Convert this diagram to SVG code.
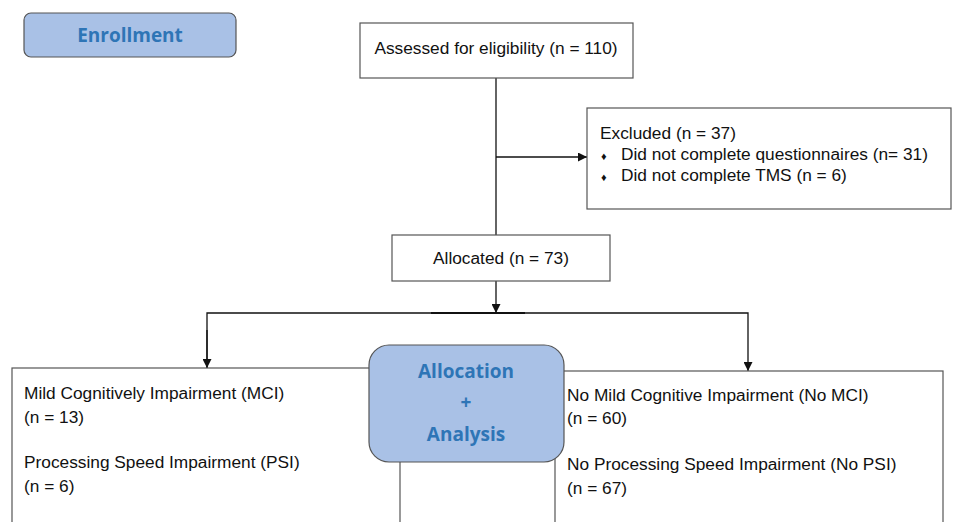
<svg xmlns="http://www.w3.org/2000/svg" width="953" height="522" viewBox="0 0 953 522">
  <style>
    .box { fill: #ffffff; stroke: #555555; stroke-width: 1.2; }
    .stage { fill: #a9c1e6; stroke: #555555; stroke-width: 1.2; }
    .txt { font-family: "Liberation Sans", Arial, sans-serif; font-size: 17.3px; fill: #111111; }
    .bullet { font-size: 11px; }
    .head { font-family: "Open Sans", "Noto Sans", sans-serif; font-weight: 700; font-size: 19px; fill: #2e75b6; text-anchor: middle; }
    .link { fill: none; stroke: #111111; stroke-width: 1.3; }
  </style>
  <defs>
    <marker id="arrow" viewBox="0 0 10 10" refX="10" refY="5" markerWidth="9" markerHeight="9" markerUnits="userSpaceOnUse" orient="auto">
      <path d="M0,0 L10,5 L0,10 z" fill="#111111"/>
    </marker>
  </defs>

  <rect width="953" height="522" fill="#ffffff"/>

  <!-- connectors -->
  <g id="connectors">
    <line class="link" x1="496" y1="78" x2="496" y2="235"/>
    <line class="link" x1="496" y1="157" x2="587" y2="157" marker-end="url(#arrow)"/>
    <line class="link" x1="496" y1="281" x2="496" y2="313" marker-end="url(#arrow)"/>
    <polyline class="link" points="207,368 207,313 748,313 748,371" marker-end="url(#arrow)"/>
    <line class="link" x1="207" y1="330" x2="207" y2="368" marker-end="url(#arrow)"/>
    <line x1="431" y1="313" x2="525" y2="313" stroke="#111111" stroke-width="1.8"/>
  </g>

  <!-- stage labels -->
  <g id="enrollment">
    <rect class="stage" x="24" y="13" width="212" height="44" rx="7"/>
    <text class="head" x="130" y="42">Enrollment</text>
  </g>

  <g id="assessed">
    <rect class="box" x="360" y="23" width="273" height="55"/>
    <text class="txt" x="496" y="54" text-anchor="middle">Assessed for eligibility (n = 110)</text>
  </g>

  <g id="excluded">
    <rect class="box" x="587" y="108" width="364" height="101"/>
    <text class="txt" x="600" y="139">Excluded (n = 37)</text>
    <text class="txt" x="601" y="160"><tspan class="bullet">♦</tspan><tspan x="621">Did not complete questionnaires (n= 31)</tspan></text>
    <text class="txt" x="601" y="181"><tspan class="bullet">♦</tspan><tspan x="621">Did not complete TMS (n = 6)</tspan></text>
  </g>

  <g id="allocated">
    <rect class="box" x="392" y="235" width="218" height="46"/>
    <text class="txt" x="501" y="264" text-anchor="middle">Allocated (n = 73)</text>
  </g>

  <g id="mci">
    <rect class="box" x="12" y="368" width="388" height="170"/>
    <text class="txt" x="24" y="399">Mild Cognitively Impairment (MCI)</text>
    <text class="txt" x="24" y="423">(n = 13)</text>
    <text class="txt" x="24" y="468">Processing Speed Impairment (PSI)</text>
    <text class="txt" x="24" y="492">(n = 6)</text>
  </g>

  <g id="no-mci">
    <rect class="box" x="555" y="371" width="388" height="170"/>
    <text class="txt" x="567" y="401">No Mild Cognitive Impairment (No MCI)</text>
    <text class="txt" x="567" y="424">(n = 60)</text>
    <text class="txt" x="567" y="470">No Processing Speed Impairment (No PSI)</text>
    <text class="txt" x="567" y="494">(n = 67)</text>
  </g>

  <g id="allocation-analysis">
    <rect class="stage" x="369" y="345" width="195" height="117" rx="20"/>
    <text class="head" x="466" y="378">Allocation</text>
    <text class="head" x="466" y="409" font-size="14">+</text>
    <text class="head" x="466" y="441">Analysis</text>
  </g>
</svg>
